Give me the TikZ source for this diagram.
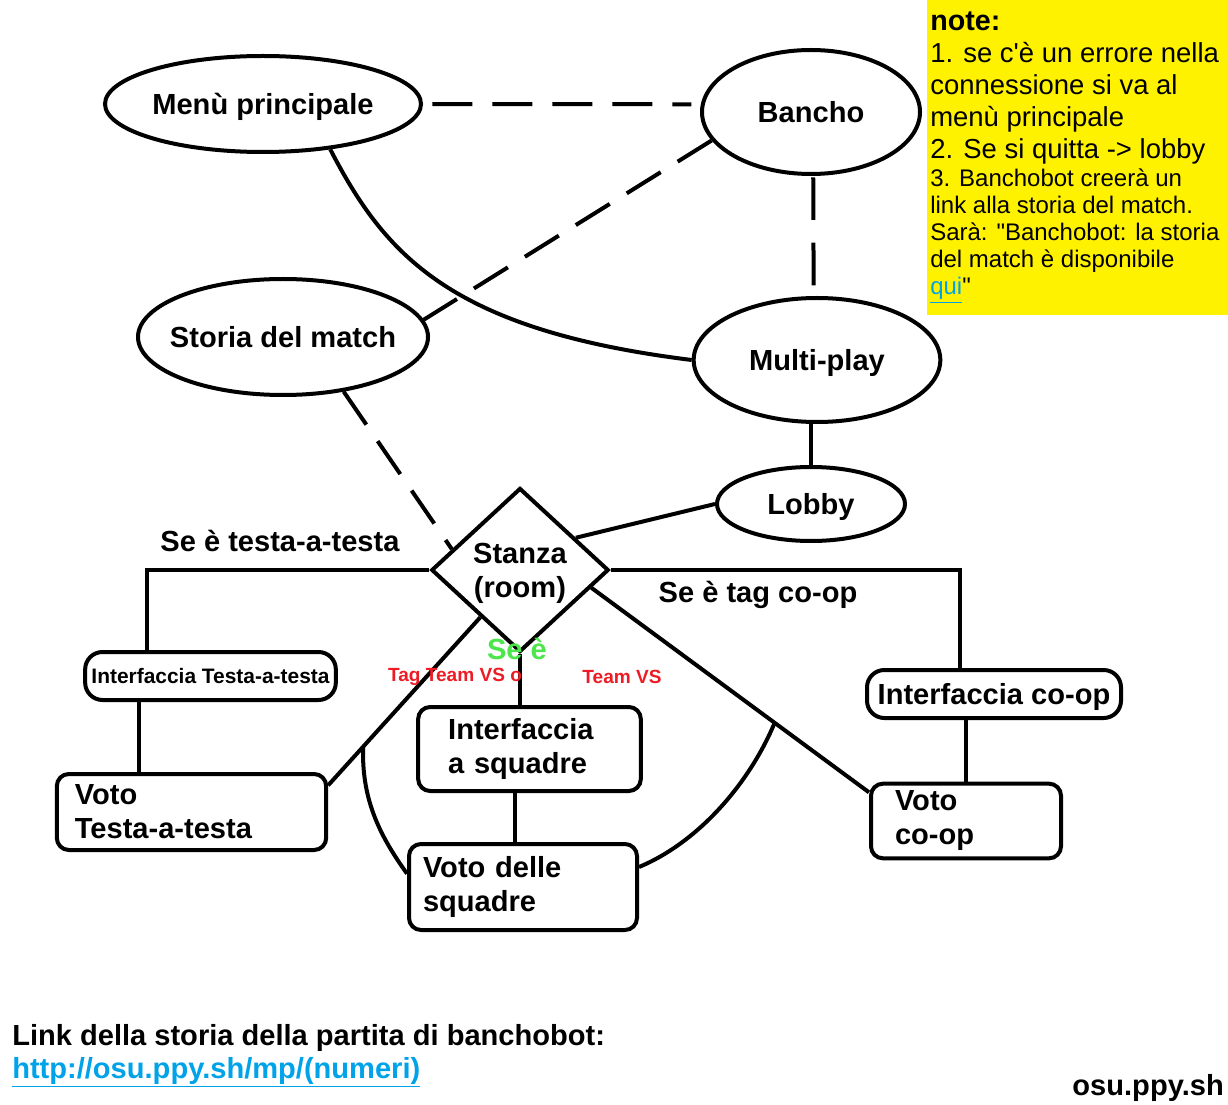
\documentclass[tikz,border=0pt]{standalone}
\usepackage{fontspec}
\newfontfamily\arialfont{Liberation Sans}
\usetikzlibrary{
    shapes.geometric,
    calc
}
\definecolor{noteyellow}{HTML}{FFF200}
\definecolor{urlblue}{HTML}{00A2E8}
\definecolor{segreen}{RGB}{76,230,76}
\definecolor{tagred}{HTML}{ED1C24}
\newcommand{\ovaltext}[1]{\makebox[0pt]{#1}}
\tikzset{
    mainfont/.style = {
        font=\arialfont\bfseries\fontsize{21.8}{25.5}\selectfont
    },
    oval/.style = {
        ellipse,
        draw,
        line width=3pt,
        inner sep=0pt,
        text height=15.6pt,
        text depth=0pt,
        mainfont
    },
    roombox/.style = {
        diamond,
        draw,
        line width=3pt,
        inner sep=0pt,
        align=center,
        mainfont
    },
    votebox/.style = {
        rectangle,
        rounded corners=9pt,
        draw,
        line width=3pt,
        align=left,
        mainfont
    },
    ifacebox/.style = {
        rectangle,
        rounded corners=13pt,
        draw,
        line width=3pt,
        inner sep=0pt,
        text height=15.6pt,
        text depth=0pt,
        mainfont
    },
    smallred/.style = {
        text=tagred,
        font=\arialfont\bfseries\fontsize{14.3}{17}\selectfont
    },
    sline/.style = {
        line width=3pt
    },
    dline/.style = {
        line width=3pt,
        dash pattern=on 30pt off 15pt
    }
}

\begin{document}
\begin{tikzpicture}[x=0.75pt, y=-0.75pt]
\useasboundingbox (0,0) rectangle (1228,1105);
\fill [noteyellow] (927,0) rectangle (1228,315);

\node (menu) [oval, minimum width=237pt, minimum height=72pt] at (263,104) {\ovaltext{Menù principale}};
\node (bancho) [oval, minimum width=163.5pt, minimum height=93pt] at (811,112) {\ovaltext{Bancho}};
\node (storia) [oval, minimum width=217.5pt, minimum height=87pt] at (283,337) {\ovaltext{Storia del match}};
\node (multi) [oval, minimum width=185pt, minimum height=93pt] at (817,360) {\ovaltext{Multi-play}};
\node (lobby) [oval, minimum width=141pt, minimum height=55.5pt] at (811,504) {\ovaltext{Lobby}};
\node (stanza) [roombox, minimum width=133pt, minimum height=123pt] at (520,570) {\rule{0pt}{20.5pt}Stanza\\(room)};

\node (itt) [ifacebox, minimum width=188pt, minimum height=36pt, text height=11pt, font=\arialfont\bfseries\fontsize{15.7}{18}\selectfont] at (210.5,676) {Interfaccia Testa-a-testa};
\node (vtt) [votebox, text width=175pt, inner xsep=13.5pt, minimum height=57pt] at (191.5,812) {Voto\\Testa-a-testa};
\node (ias) [votebox, text width=122pt, inner xsep=22.5pt, minimum height=63pt] at (529.5,749) {Interfaccia\\a squadre};
\node (vds) [votebox, text width=150pt, inner xsep=10.5pt, minimum height=64.5pt] at (523,887) {Voto delle\\squadre};
\node (ico) [ifacebox, minimum width=190.5pt, minimum height=36pt] at (994,694) {Interfaccia co-op};
\node (vco) [votebox, text width=106.5pt, inner xsep=18pt, minimum height=56pt] at (966,821) {Voto\\co-op};

\draw [dline, shorten <=7pt, shorten >=7pt] (menu.east) -- (bancho.176);
\draw [dline, dash pattern=on 32pt off 17pt, shorten <=1pt, shorten >=1pt] (bancho.-88) -- (multi.93);
\draw [dline] (bancho.196) -- (storia.7);
\draw [sline] (menu.-34) .. controls (385,255) and (450,330) .. (multi.west);
\draw [dline] (storia.-42) -- (stanza.163);
\draw [sline] (lobby.north |- multi.south) -- (lobby.north);
\draw [sline] (lobby.west) -- (stanza.30);

\draw [sline] (stanza.west) -| ($(itt.north west)!0.25!(itt.north east)$);
\draw [sline] (stanza.east) -| ($(ico.north west)!0.37!(ico.north east)$);
\coordinate (ittfoot) at ($(itt.south west)!0.22!(itt.south east)$);
\draw [sline] (ittfoot) -- (ittfoot |- vtt.north);
\draw [sline] (stanza.south) -- (stanza.south |- ias.north);
\coordinate (vdstop) at ([xshift=-6pt]vds.north);
\draw [sline] (vdstop |- ias.south) -- (vdstop);
\draw [sline] (ico.south -| vco.north) -- (vco.north);

\draw [sline] (stanza.230) -- coordinate[pos=0.77] (ttfork) ([yshift=-10pt]vtt.north east);
\draw [sline] (ttfork) .. controls +(-2,55) and +(-25,-35) .. ([yshift=10pt]vds.west);
\draw [sline] (stanza.-14) -- coordinate[pos=0.66] (cofork) ([yshift=-8pt]vco.north west);
\draw [sline] (cofork) .. controls +(-25,60) and +(60,-25) .. ([yshift=15pt]vds.east);

\node (lefttag) [mainfont] at (280,541) {Se è testa-a-testa};
\node (righttag) [mainfont] at (758,595) {Se è tag co-op};
\node (seeq) [mainfont, text=segreen] at (517,649) {Se è};
\node (tagvs) [smallred] at (455,677) {Tag Team VS o};
\node (teamvs) [smallred] at (622,677) {Team VS};

\node (notea) [anchor=north west, inner sep=0pt, align=left, font=\arialfont\fontsize{20.6}{24}\selectfont] at (930,12)
    {{\bfseries\fontsize{21.5}{24}\selectfont note:}\\1. se c'è un errore nella\\connessione si va al\\menù principale\\2. Se si quitta -> lobby};
\node (noteb) [anchor=north west, inner sep=0pt, align=left, font=\arialfont\fontsize{18}{20.25}\selectfont] at (930,169)
    {3. Banchobot creerà un\\link alla storia del match.\\Sarà: "Banchobot: la storia\\del match è disponibile\\{\color{urlblue}\underline{qui}}"};

\node (linktxt) [mainfont, anchor=west, inner sep=0pt] at (12,1038) {Link della storia della partita di banchobot:};
\node (linkurl) [mainfont, anchor=west, inner sep=0pt, text=urlblue] at (12,1072) {\underline{http://osu.ppy.sh/mp/(numeri)}};
\node (site) [mainfont, anchor=east, inner sep=0pt] at (1224,1088) {osu.ppy.sh};
\end{tikzpicture}
\end{document}
